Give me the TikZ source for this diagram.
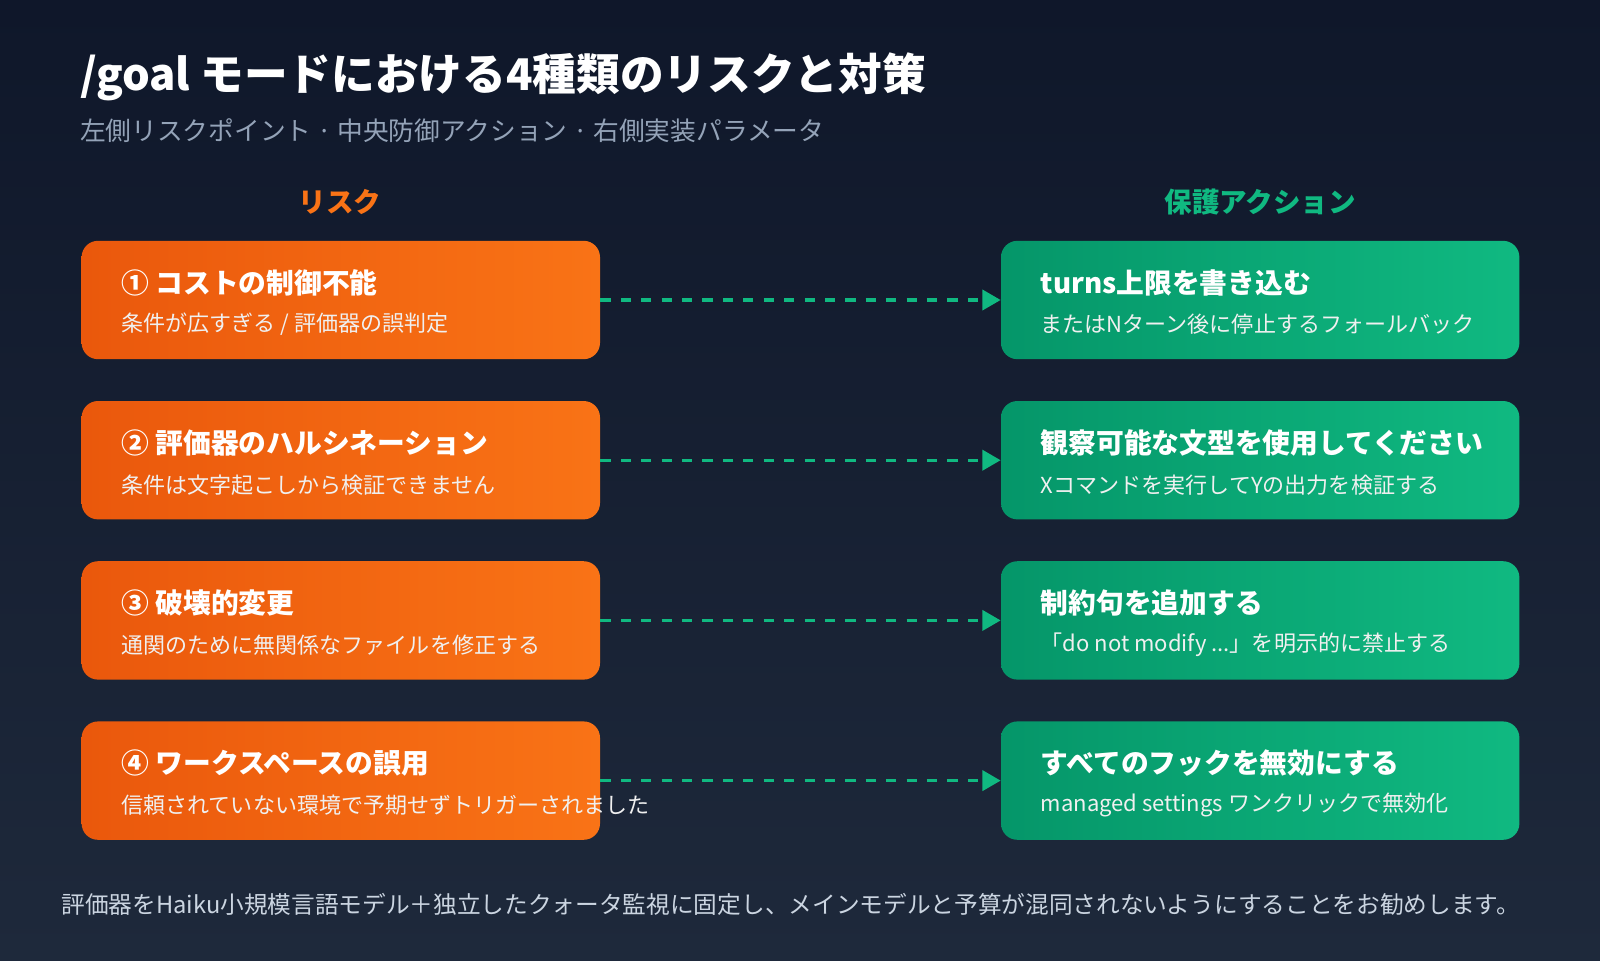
\documentclass[tikz,border=0pt]{standalone}
\usepackage{fontspec}
\setmainfont{Noto Sans CJK JP}
\usetikzlibrary{positioning,arrows.meta,calc}
\definecolor{bgtop}{HTML}{0F172A}
\definecolor{bgbot}{HTML}{1E293B}
\definecolor{riskA}{HTML}{EA580C}
\definecolor{riskB}{HTML}{F97316}
\definecolor{guardA}{HTML}{059669}
\definecolor{guardB}{HTML}{10B981}
\definecolor{subgray}{HTML}{94A3B8}
\definecolor{footgray}{HTML}{CBD5E1}
\newcommand{\threedots}{...}
\tikzset{
    riskbox/.style={rounded corners=8pt,left color=riskA,right color=riskB,minimum width=254pt,minimum height=58pt,inner sep=0pt},
    guardbox/.style={rounded corners=8pt,left color=guardA,right color=guardB,minimum width=254pt,minimum height=58pt,inner sep=0pt},
    boxtitle/.style={anchor=west,text=white,font=\fontsize{13.6}{15}\selectfont\bfseries,inner sep=0pt},
    boxnote/.style={anchor=west,text=white!88!gray,font=\fontsize{10.8}{12}\selectfont,inner sep=0pt},
    link/.style={draw=guardB,line width=1.5pt,dash pattern=on 5pt off 5pt,-{Triangle[length=9pt,width=10pt]}}
}
\begin{document}
\begin{tikzpicture}[x=0.5pt,y=-0.5pt]
    % Background
    \shade[top color=bgtop,bottom color=bgbot] (0,0) rectangle (1568,941);
    \useasboundingbox (0,0) rectangle (1568,941);

    % Title
    \node[anchor=west,text=white,font=\fontsize{21.4}{24}\selectfont\bfseries,inner sep=0pt] (title) at (78,75) {/goal モードにおける4種類のリスクと対策};
    \node[anchor=west,text=subgray,font=\fontsize{12.6}{14}\selectfont,inner sep=0pt] (subtitle) at (78,128) {左側リスクポイント · 中央防御アクション · 右側実装パラメータ};

    % Column headers
    \node[text=riskB,font=\fontsize{13.5}{15}\selectfont\bfseries] (riskhead) at (333,198) {リスク};
    \node[text=guardB,font=\fontsize{13.5}{15}\selectfont\bfseries] (guardhead) at (1235,198) {保護アクション};

    % Rows
    \foreach \i/\y/\rt/\rn/\gt/\gn in {
        1/294/{① コストの制御不能}/{条件が広すぎる / 評価器の誤判定}/{turns上限を書き込む}/{またはNターン後に停止するフォールバック},
        2/451/{② 評価器のハルシネーション}/{条件は文字起こしから検証できません}/{観察可能な文型を使用してください}/{Xコマンドを実行してYの出力を検証する},
        3/608/{③ 破壊的変更}/{通関のために無関係なファイルを修正する}/{制約句を追加する}/{「do not modify \threedots」を明示的に禁止する},
        4/765/{④ ワークスペースの誤用}/{信頼されていない環境で予期せずトリガーされました}/{すべてのフックを無効にする}/{managed settings ワンクリックで無効化}} {
        \node[riskbox] (risk\i) at (334,\y) {};
        \node[guardbox] (guard\i) at (1235,\y) {};
        \node[boxtitle] (risktitle\i) at ($(risk\i.west)+(39,-17)$) {\rt};
        \node[boxnote] (risknote\i) at ($(risk\i.west)+(39,24)$) {\rn};
        \node[boxtitle] (guardtitle\i) at ($(guard\i.west)+(39,-17)$) {\gt};
        \node[boxnote] (guardnote\i) at ($(guard\i.west)+(39,24)$) {\gn};
        \draw[link] (risk\i.east) -- (guard\i.west);
    }

    % Footer
    \node[anchor=west,text=footgray,font=\fontsize{11.6}{13}\selectfont,inner sep=0pt] (footer) at (60,886) {評価器をHaiku小規模言語モデル＋独立したクォータ監視に固定し、メインモデルと予算が混同されないようにすることをお勧めします。};
\end{tikzpicture}
\end{document}
